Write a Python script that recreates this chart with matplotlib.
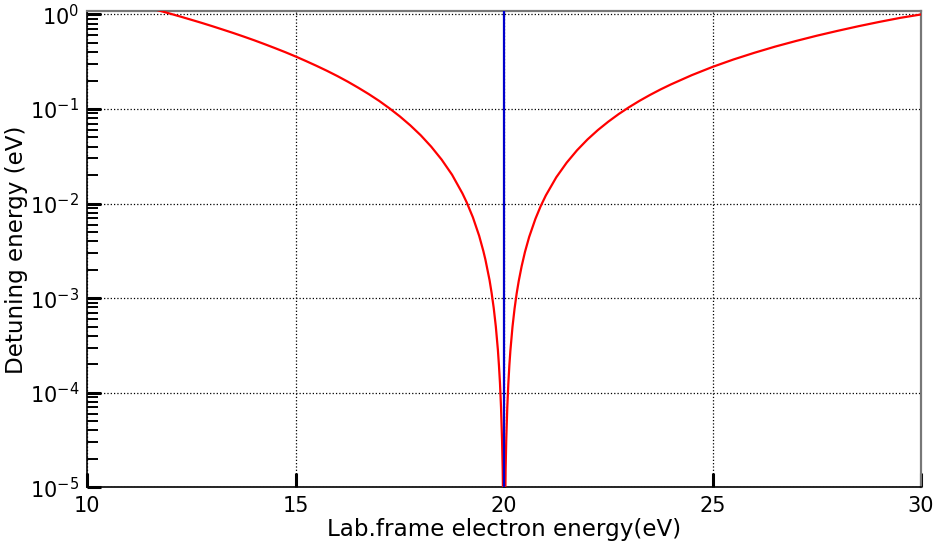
import matplotlib
matplotlib.use("Agg")
import matplotlib.pyplot as plt
from matplotlib.ticker import LogLocator, NullLocator

# values
energy_left = [11.5, 11.75, 12.0, 12.25, 12.5, 12.75, 13.0, 13.25, 13.5, 13.75,
               14.0, 14.25, 14.5, 14.75, 15.0, 15.25, 15.5, 15.75, 16.0, 16.25,
               16.5, 16.75, 17.0, 17.25, 17.5, 17.75, 18.0, 18.25, 18.5, 18.75,
               19.0, 19.1, 19.25, 19.4, 19.5, 19.55, 19.65, 19.7, 19.75, 19.8,
               19.85, 19.875, 19.9, 19.925, 19.95, 19.965, 19.98, 19.995]
detuning_left = [1.168, 1.091, 1.016, 0.945, 0.877, 0.813, 0.751, 0.692, 0.637,
                 0.584, 0.534, 0.486, 0.441, 0.399, 0.359, 0.321, 0.286, 0.2535,
                 0.223, 0.1945, 0.168, 0.144, 0.122, 0.1016, 0.0834, 0.0671,
                 0.0527, 0.0400, 0.0292, 0.0202, 0.0128, 0.01034, 0.00716,
                 0.00457, 0.00316, 0.00256, 0.00155, 0.00113, 0.000786,
                 0.000502, 0.000283, 0.000195, 0.000126, 7.0e-5, 3.1e-5,
                 1.53e-5, 5.0e-6, 3.1e-7]
energy_right = [20.005, 20.02, 20.035, 20.05, 20.075, 20.1, 20.125, 20.15, 20.2,
                20.25, 20.3, 20.35, 20.42, 20.5, 20.6, 20.75, 20.875, 21.0,
                21.25, 21.5, 21.75, 22.0, 22.25, 22.5, 22.75, 23.0, 23.25, 23.5,
                23.75, 24.0, 24.5, 25.0, 25.5, 26.0, 26.5, 27.0, 27.5, 28.0,
                28.5, 29.0, 29.5, 30.0]
detuning_right = [3.1e-7, 5.0e-6, 1.53e-5, 3.1e-5, 7.0e-5, 0.000124, 0.000195,
                  0.000280, 0.000497, 0.000777, 0.00112, 0.00152, 0.00218,
                  0.00309, 0.00444, 0.00690, 0.00937, 0.0122, 0.01896, 0.0271,
                  0.0367, 0.0477, 0.0600, 0.0736, 0.0886, 0.1048, 0.1223, 0.141,
                  0.161, 0.182, 0.228, 0.279, 0.334, 0.393, 0.457, 0.524, 0.596,
                  0.671, 0.751, 0.834, 0.920, 1.0]
resonance_energy = 20.0

x_ticks = [10, 15, 20, 25, 30]


def main():
    energy = energy_left + energy_right
    detuning = detuning_left + detuning_right

    fig = plt.figure(figsize=(9.35, 5.47), dpi=100)
    ax = fig.add_axes([0.0934, 0.1091, 0.8916, 0.8699])

    ax.plot(energy, detuning, color="red", lw=1.6, zorder=3)
    ax.axvline(resonance_energy, color="#0000cc", lw=1.6, zorder=4)

    ax.set_yscale("log")
    ax.set_xlim(10, 30)
    ax.set_ylim(1e-5, 1.075)
    ax.set_xticks(x_ticks)
    ax.xaxis.set_minor_locator(NullLocator())
    ax.yaxis.set_major_locator(LogLocator(base=10, numticks=10))
    ax.yaxis.set_minor_locator(LogLocator(base=10, subs=range(2, 10), numticks=10))

    ax.grid(True, which="major", color="black", linestyle=":", lw=0.9)
    ax.tick_params(which="both", direction="in", top=False, right=False,
                   labelsize=15)
    ax.tick_params(which="major", length=10, width=2.2, pad=6)
    ax.tick_params(which="minor", length=8, width=1.4)

    for side in ["left", "bottom"]:
        ax.spines[side].set_color("black")
        ax.spines[side].set_linewidth(1.2)
    for side in ["top", "right"]:
        ax.spines[side].set_color("#777777")
        ax.spines[side].set_linewidth(1.6)

    ax.set_xlabel("Lab.frame electron energy(eV)", fontsize=16.6, labelpad=2)
    ax.set_ylabel("Detuning energy (eV)", fontsize=16.6, labelpad=1)

    fig.savefig("out.png", dpi=100)


if __name__ == "__main__":
    main()
